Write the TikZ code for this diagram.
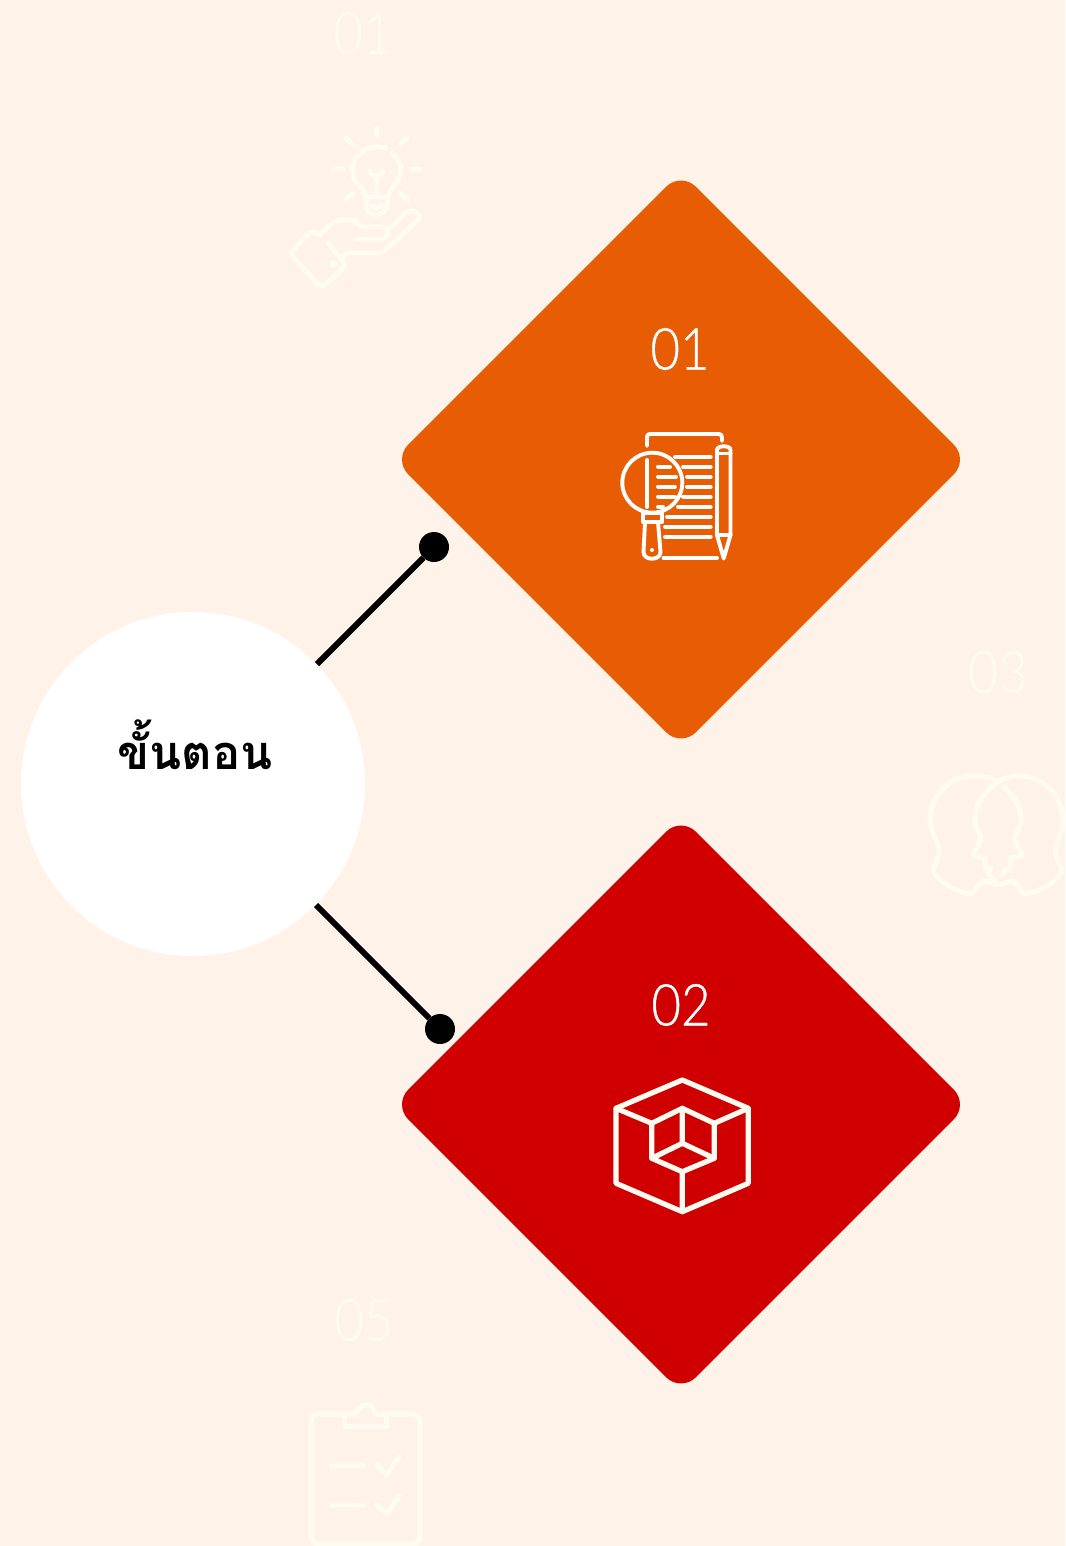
\documentclass[tikz,border=0pt]{standalone}
\usepackage{fontspec}
\usetikzlibrary{shapes.geometric}
\newfontfamily\thaifont[Script=Thai]{Loma}
\newfontfamily\numfont[FakeStretch=0.88,FakeBold=0.6]{Lato Light}
\definecolor{bgc}{HTML}{FFF2E8}
\definecolor{fadec}{HTML}{FFFBF0}
\definecolor{orangec}{HTML}{E85D04}
\definecolor{redc}{HTML}{D00000}
\tikzset{
 x=1pt,y=-1pt,
 card/.style={shape=diamond,aspect=1,minimum width=575.5pt,minimum height=575.5pt,inner sep=0pt,rounded corners=21pt},
 numlabel/.style={font=\numfont\fontsize{58}{58}\selectfont,inner sep=0pt},
 fadeicon/.style={draw=fadec,line width=5pt,line cap=round,line join=round},
 whiteicon/.style={draw=white,line width=3.9pt,line cap=round,line join=round},
 creamicon/.style={draw=fadec,line width=5.2pt,line cap=round,line join=round},
 dotnode/.style={circle,fill=black,minimum size=30pt,inner sep=0pt},
 link/.style={draw=black,line width=6pt}
}
\begin{document}
\begin{tikzpicture}
\useasboundingbox (0,0) rectangle (1065,1546);
\fill[bgc] (0,0) rectangle (1065,1546);
% faded numbers
\node[numlabel,text=fadec] (n1) at (363,33) {01};
\node[numlabel,text=fadec] (n3) at (998,672) {03};
\node[numlabel,text=fadec] (n5) at (364,1320) {05};
% bulb in hand
\draw[fadeicon] (376.5,127)--(376.5,135) (346,138)--(353,145) (407,138)--(400,145) (333,169)--(343,169)
 (411,169)--(421,169) (346,200)--(353,193) (407,200)--(400,193);
\draw[fadeicon] (386,148) .. controls (370,143) and (352,153) .. (352,171) .. controls (352,184) and (364,186) .. (366,197)
 -- (366,207) .. controls (368,212) and (372,214) .. (376.5,216) .. controls (381,214) and (385,212) .. (387,207) -- (388,197)
 .. controls (390,186) and (401,182) .. (401,170) .. controls (401,163) and (396,157) .. (392,153);
\draw[fadeicon] (366,197)--(388,197) (370,171) .. controls (371,175) and (374,177) .. (376.5,177) .. controls (379,177) and (382,175) .. (383,171)
 (376.5,177)--(376.5,183) (376.5,188)--(376.5,197) (371,205) -- (376.5,209) -- (382,205);
\draw[fadeicon] (320,235) -- (314,232) .. controls (312,231) and (310,232) .. (308,234) -- (294,249) .. controls (291,252) and (291,255) .. (293,257)
 -- (318,284) .. controls (320,286) and (323,286) .. (326,284) -- (342,269) .. controls (345,266) and (345,263) .. (342,260) -- (328,243);
\draw[fadeicon] (320,234) -- (334,222) .. controls (337,220) and (340,220) .. (344,220) -- (352,220) .. controls (358,220) and (358,227) .. (363,227)
 -- (381,227) .. controls (390,227) and (390,239) .. (381,239) -- (358,239);
\draw[fadeicon] (388,228) .. controls (398,224) and (402,212) .. (411,211) .. controls (418,211) and (421,216) .. (418,220)
 -- (388,248) .. controls (384,252) and (380,253) .. (375,253) -- (350,253) .. controls (346,253) and (344,255) .. (342,258);
\fill[fadec] (333,264) circle (4pt);
% heads
\draw[fadeicon] (997,781) .. controls (985,775) and (972,775) .. (960,778) .. controls (942,784) and (930,802) .. (930,820)
 .. controls (931,832) and (938,842) .. (939,850) .. controls (939,858) and (934,866) .. (933,871) .. controls (936,880) and (958,893) .. (971,894)
 .. controls (977,893) and (977,882) .. (984,881) .. controls (989,881) and (993,885) .. (998,885) .. controls (1003,885) and (1007,881) .. (1012,881)
 .. controls (1019,882) and (1019,893) .. (1025,894) .. controls (1038,893) and (1060,880) .. (1062,871) .. controls (1061,866) and (1055,858) .. (1055,850)
 .. controls (1056,842) and (1063,832) .. (1063,820) .. controls (1063,802) and (1051,784) .. (1033,778) .. controls (1015,773) and (997,778) .. (987,792)
 .. controls (977,802) and (974,812) .. (975,822) .. controls (976,830) and (981,834) .. (981,838) .. controls (980,843) and (973,852) .. (974,856)
 -- (985,858) -- (985,868) -- (991,868) -- (989,874) -- (997,885);
\draw[fadeicon] (1004,787) .. controls (1014,796) and (1021,808) .. (1021,820) .. controls (1020,830) and (1015,832) .. (1015,838)
 .. controls (1015,843) and (1022,852) .. (1022,856) -- (1010,858) -- (1010,868) -- (1005,869) .. controls (1005,872) and (1003,874) .. (1002,875);
% clipboard
\draw[fadeicon] (344.3,1414) -- (320,1414) .. controls (314,1414) and (311,1417) .. (311,1422) -- (311,1536) .. controls (311,1541) and (314,1544) .. (320,1544)
 -- (411,1544) .. controls (417,1544) and (420,1541) .. (420,1536) -- (420,1422) .. controls (420,1417) and (417,1414) .. (411,1414) -- (386.7,1414) -- (375,1414)
 .. controls (375,1402) and (357,1402) .. (356.7,1414) -- cycle;
\draw[fadeicon] (344.3,1414) -- (344.3,1426) -- (386.7,1426) -- (386.7,1414);
\draw[fadeicon] (331,1465.7)--(363,1465.7) (331,1505)--(363,1505)
 (376.7,1465)--(386.7,1475)--(400,1455.7) (376.7,1504.3)--(386.7,1514.3)--(400,1495);
% main shapes
\node[card,fill=orangec] (d1) at (681,459.5) {};
\node[card,fill=redc] (d2) at (681,1104.5) {};
\node[circle,fill=white,minimum size=344pt,inner sep=0pt] (c) at (193,784) {};
\node[font=\thaifont\bfseries\fontsize{47}{47}\selectfont,inner sep=0pt,anchor=base] (title) at (195,769) {ขั้นตอน};
\node[dotnode] (p1) at (434,547) {};
\node[dotnode] (p2) at (440,1029) {};
\coordinate (s1) at (317,664);
\coordinate (s2) at (316,905);
\draw[link] (s1) -- (p1);
\draw[link] (s2) -- (p2);
\node[numlabel,text=white] (t1) at (680,349) {01};
\node[numlabel,text=white] (t2) at (681,1005) {02};
% search icon
\begin{scope}[whiteicon]
\draw (647,446) -- (647,437) .. controls (647,435) and (648,434) .. (650,434) -- (719,434) .. controls (721,434) and (722,435) .. (722,438) -- (722,441);
\draw (652.3,482.7) circle (30pt);
\draw (643,513) rectangle (662,522);
\draw (645,522) -- (643.5,552) .. controls (643.5,561) and (660.5,561) .. (660.5,552) -- (658,522);
\draw (647,460)--(647,507);
\draw (658,466.7)--(670,466.7) (658,476.7)--(676,476.7) (658,486.7)--(675,486.7) (658,496.7)--(675,496.7) (658,506.7)--(663,506.7);
\draw (675,456.7)--(710.7,456.7) (683,466.7)--(710.7,466.7) (687,476.7)--(710.7,476.7) (687,486.7)--(710.7,486.7)
 (683,496.7)--(710.7,496.7) (678,506.7)--(710.7,506.7) (667,516.7)--(710.7,516.7) (665,526.7)--(710.7,526.7) (665,536.7)--(710.7,536.7) (663.5,558)--(717,558);
\draw (717,535) -- (717,450) .. controls (717,445) and (730.5,445) .. (730.5,450) -- (730.5,535) -- (723.7,558.5) -- cycle;
\draw (717,453.5)--(730.5,453.5) (717,535)--(730.5,535);
\end{scope}
\fill[white] (652,550) circle (2pt);
% box icon
\begin{scope}[creamicon]
\draw (682.3,1080)--(748.3,1108.3)--(748.3,1183.3)--(682.3,1211.7)--(616,1183.3)--(616,1108.3)--cycle;
\draw (616,1108.3)--(651.7,1123.3)--(682.3,1108.3)--(714.3,1123.3)--(748.3,1108.3);
\draw (651.7,1123.3)--(651.7,1158.3)--(682.3,1171.7)--(714.3,1158.3)--(714.3,1123.3);
\draw (682.3,1108.3)--(682.3,1143.3) (651.7,1158.3)--(682.3,1143.3)--(714.3,1158.3) (682.3,1171.7)--(682.3,1211.7);
\end{scope}
\end{tikzpicture}
\end{document}
